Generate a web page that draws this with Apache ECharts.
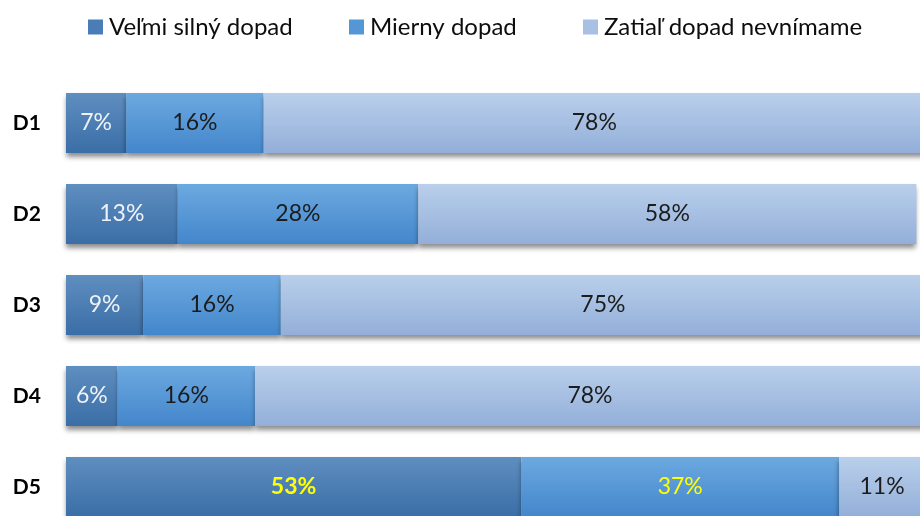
<!DOCTYPE html>
<html>
<head>
<meta charset="utf-8">
<script src="https://cdn.jsdelivr.net/npm/echarts@6/dist/echarts.min.js"></script>
<style>
html,body{margin:0;padding:0;background:#fff;}
#container{width:920px;height:516px;}
</style>
</head>
<body>
<div id="container"></div>
<script>
var categories = ['D1', 'D2', 'D3', 'D4', 'D5'];
var seriesNames = ['Veľmi silný dopad', 'Mierny dopad', 'Zatiaľ dopad nevnímame'];
var strong = [7, 13, 9, 6, 53];
var mild = [16, 28, 16, 16, 37];
var none = [78, 58, 75, 78, 11];

var dom = document.getElementById('container');
var myChart = echarts.init(dom);

function grad(top, bottom) {
    return new echarts.graphic.LinearGradient(0, 0, 0, 1, [
        {offset: 0, color: top},
        {offset: 1, color: bottom}
    ]);
}

var fills = [
    grad('#5f8ec0', '#3a6ea6'),
    grad('#6ca9e0', '#4386cb'),
    grad('#b9cfeb', '#93afd9')
];
var solid = ['#4a7db5', '#5597d6', '#a8c1e3'];
var labelColors = ['#eef2f8', '#1c1c1c', '#1c1c1c'];

function makeData(vals, s) {
    return vals.map(function (v, i) {
        if (i == 4 && s < 2) {
            // last row: yellow labels
            return {value: v, label: {color: '#ffff00', fontWeight: s == 0 ? 'bold' : 'normal'}};
        }
        return v;
    });
}

var allVals = [strong, mild, none];
var series = [];
for (var s = 0; s < 3; s++) {
    series.push({
        name: seriesNames[s],
        type: 'bar',
        stack: 'total',
        barWidth: 60,
        data: makeData(allVals[s], s),
        itemStyle: {
            color: fills[s],
            shadowColor: 'rgba(0,0,0,0.45)',
            shadowBlur: 5,
            shadowOffsetY: 4
        },
        label: {
            show: true,
            position: 'inside',
            formatter: '{c}%',
            color: labelColors[s],
            fontFamily: 'Lato',
            fontSize: 23
        },
        emphasis: {disabled: true}
    });
}

var legendX = [88, 349, 583];
var legends = legendX.map(function (x, i) {
    return {
        left: x,
        top: 15,
        padding: 0,
        icon: 'rect',
        itemWidth: 15,
        itemHeight: 15,
        itemGap: 0,
        data: [{name: seriesNames[i], itemStyle: {color: solid[i]}}],
        textStyle: {fontFamily: 'Lato', fontSize: 24, color: '#0d0d0d', padding: [0, 0, 0, 1]}
    };
});

var option = {
    animation: false,
    backgroundColor: '#ffffff',
    legend: legends,
    grid: {left: 66, top: 77.5, width: 859, height: 455, outerBoundsMode: 'none'},
    xAxis: {type: 'value', min: 0, max: 100, show: false},
    yAxis: {
        type: 'category',
        inverse: true,
        data: categories,
        axisLine: {show: false},
        axisTick: {show: false},
        axisLabel: {
            margin: 25,
            fontFamily: 'Lato',
            fontWeight: 'bold',
            fontSize: 21,
            color: '#000'
        }
    },
    series: series
};
myChart.setOption(option);
</script>
</body>
</html>
